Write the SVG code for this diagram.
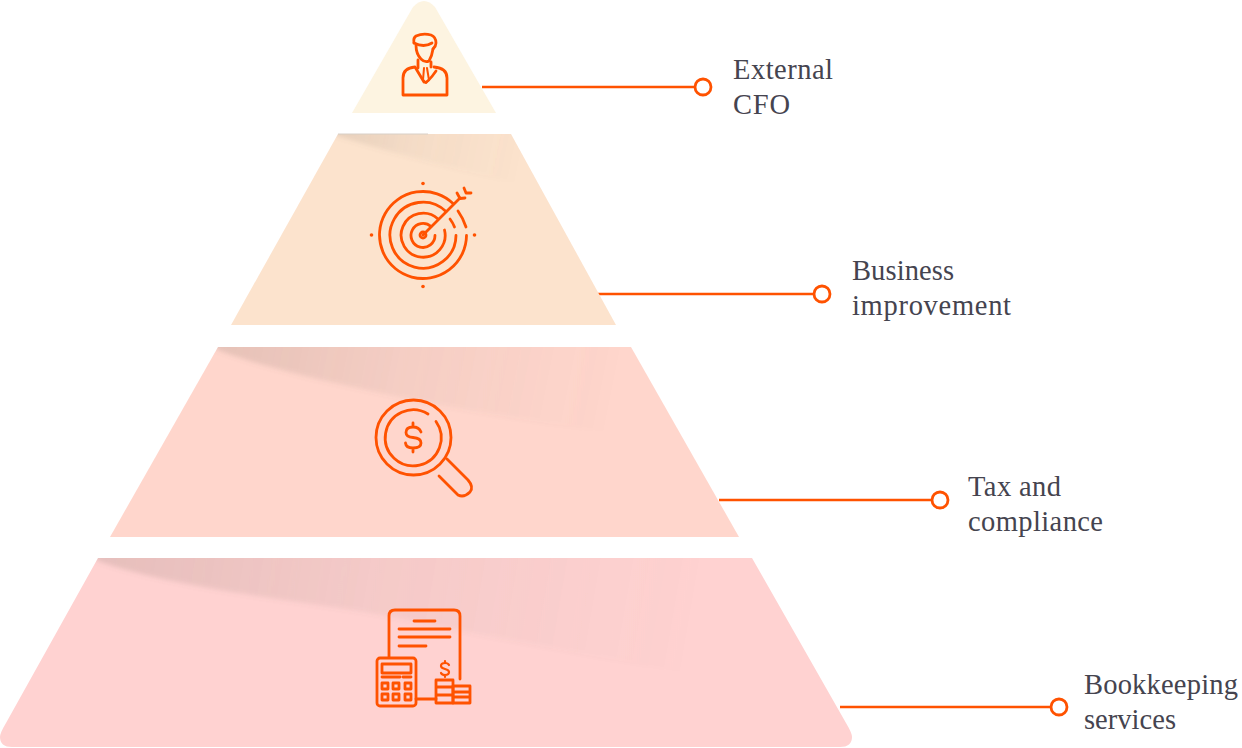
<svg xmlns="http://www.w3.org/2000/svg" width="1242" height="748" viewBox="0 0 1242 748">
<style>
.ic{fill:none;stroke:#ff5200;stroke-width:2.8;stroke-linecap:round;stroke-linejoin:round}
.ln{fill:none;stroke:#ff5200;stroke-width:2.6}
.dot{fill:#fff;stroke:#ff5200;stroke-width:2.8}
.lb{font-family:"Liberation Serif",serif;font-size:28.5px;fill:#45444f}
</style>
<defs>
<linearGradient id="s2" gradientUnits="userSpaceOnUse" x1="338" y1="134" x2="520" y2="172"><stop offset="0" stop-color="#7a6a60" stop-opacity=".16"/><stop offset=".4" stop-color="#7a6a60" stop-opacity=".06"/><stop offset="1" stop-color="#7a6a60" stop-opacity="0"/></linearGradient>
<linearGradient id="s3" gradientUnits="userSpaceOnUse" x1="218" y1="347" x2="610" y2="425"><stop offset="0" stop-color="#7a6a60" stop-opacity=".19"/><stop offset=".45" stop-color="#7a6a60" stop-opacity=".08"/><stop offset="1" stop-color="#7a6a60" stop-opacity="0"/></linearGradient>
<linearGradient id="s4" gradientUnits="userSpaceOnUse" x1="98" y1="558" x2="690" y2="660"><stop offset="0" stop-color="#7a6a60" stop-opacity=".19"/><stop offset=".45" stop-color="#7a6a60" stop-opacity=".08"/><stop offset="1" stop-color="#7a6a60" stop-opacity="0"/></linearGradient>
<clipPath id="c2"><path d="M338 134H511L616 325H231Z"/></clipPath>
<clipPath id="c3"><path d="M218 347H631L739 537H110Z"/></clipPath>
<clipPath id="c4"><path d="M98 558H752L852 733V747H0V733Z"/></clipPath>
<filter id="b" x="-10%" y="-20%" width="120%" height="140%"><feGaussianBlur stdDeviation="2.500"/></filter>
</defs>
<g id="connectors">
<path class="ln" d="M482 87H695M598 294H814M719 500H932M840 707H1051"/>
</g>
<g id="tier-external-cfo">
<path d="M352 113L413 7Q424 -5 435 7L496 113Z" fill="#fdf4e1"/>
<g class="ic">
<path d="M414 43Q413 38 416 36Q423 33 431 35Q436 37 436 43Q436 46 433 49"/>
<path d="M414 43Q424 48 432 43"/>
<path d="M416 45Q416 54 421 59Q425 63 429 61Q432 56 433 49"/>
<path d="M418 60V68M431 62V67"/>
<path d="M434 67Q447 68 447 78V95H403V78Q403 68 415 67L424 82Q427 84 436 71"/>
<path d="M424 68L423 80L426 83L429 80L427 68" stroke-width="2"/>
</g>
<text class="lb" x="733" y="79" textLength="100">External</text>
<text class="lb" x="733" y="114" textLength="57">CFO</text>
<circle class="dot" cx="703" cy="87" r="8"/>
</g>
<g id="tier-business-improvement">
<path d="M338 134H511L616 325H231Z" fill="#fce3cd"/>
<g clip-path="url(#c2)"><path d="M320 125H540L560 195C500 178 430 165 338 136Z" fill="url(#s2)" filter="url(#b)"/></g>
<path d="M338 134H428" stroke="#d8cfc6" stroke-width="1" fill="none"/>
<g class="ic">
<path d="M453 203.500A43.500 43.500 0 1 0 466.500 235.500"/>
<path d="M458 211Q463 218 466 227"/>
<path d="M446 211.500A33 33 0 1 0 456 235.500"/>
<path d="M450 219Q453 223 454.500 227"/>
<path d="M438 219A22 22 0 1 0 444.500 230"/>
<path d="M431 226.500A12 12 0 1 0 435 235.500"/>
<circle cx="423" cy="235" r="3"/>
<path d="M423 235L460 198"/>
<path d="M457 193L460 198.500L465 198M464 188L466 193L471 193"/>
</g>
<g fill="#ff5200"><circle cx="423" cy="183.500" r="1.800"/><circle cx="423" cy="286.500" r="1.800"/><circle cx="371.500" cy="235" r="1.800"/><circle cx="474.500" cy="235" r="1.800"/></g>
<text class="lb" x="852" y="280" textLength="102">Business</text>
<text class="lb" x="852" y="315" textLength="159">improvement</text>
<circle class="dot" cx="822" cy="294" r="8"/>
</g>
<g id="tier-tax-compliance">
<path d="M218 347H631L739 537H110Z" fill="#ffd6cc"/>
<g clip-path="url(#c3)"><path d="M200 330H670L720 450C600 430 480 415 394 396C330 382 270 370 218 350Z" fill="url(#s3)" filter="url(#b)"/></g>
<g class="ic">
<circle cx="413.500" cy="437.500" r="37.500"/>
<path d="M428 414A28 28 0 1 0 436 421.500"/>
<path d="M421 432Q419 427 413 427Q406 427 406 432.500Q406 437 413 437.500Q421 438 421 443Q421 448 413 448Q406 448 405.500 443M413 423V427M413 448V452"/>
<path d="M447 459L468 480Q474 487 470 492Q464 498 458 495L439 476"/>
</g>
<text class="lb" x="968" y="496" textLength="93">Tax and</text>
<text class="lb" x="968" y="531" textLength="135">compliance</text>
<circle class="dot" cx="940" cy="500" r="8"/>
</g>
<g id="tier-bookkeeping">
<path d="M98 558H752L846 723Q852 733 852 737Q852 747 840 747H12Q0 747 0 737Q0 733 6 723Z" fill="#ffd2d1"/>
<g clip-path="url(#c4)"><path d="M80 540H790L830 700C700 675 500 640 392 617C300 600 180 590 98 561Z" fill="url(#s4)" filter="url(#b)"/></g>
<g class="ic">
<path d="M389 657V616Q389 610 395 610H454Q460 610 460 616V679"/>
<path d="M414 621H435M399 629H450M399 637H450M399 646H426"/>
<rect x="377" y="658" width="39" height="48" rx="3"/>
<path d="M382 664H411V673H382ZM382 677H400M403 677H411"/>
<path d="M382 683H388V689H382ZM393 683H399V689H393ZM405 683H411V689H405ZM382 694H388V700H382ZM393 694H399V700H393ZM405 694H411V700H405Z"/>
<path d="M416 699H436"/>
<path d="M436 680H453V703H436ZM436 687H453M436 695H453"/>
<path d="M453 686H470V703H453ZM453 692H470M453 697H470"/>
<path d="M449 665Q448 663 445 663Q441 663 441 666Q441 668 445 669Q449 670 449 672Q449 675 445 675Q442 675 441 673M445 661V663M445 675V677" stroke-width="2.200"/>
</g>
<text class="lb" x="1084" y="694" textLength="154">Bookkeeping</text>
<text class="lb" x="1084" y="729" textLength="92">services</text>
<circle class="dot" cx="1059" cy="707" r="8"/>
</g>
</svg>
